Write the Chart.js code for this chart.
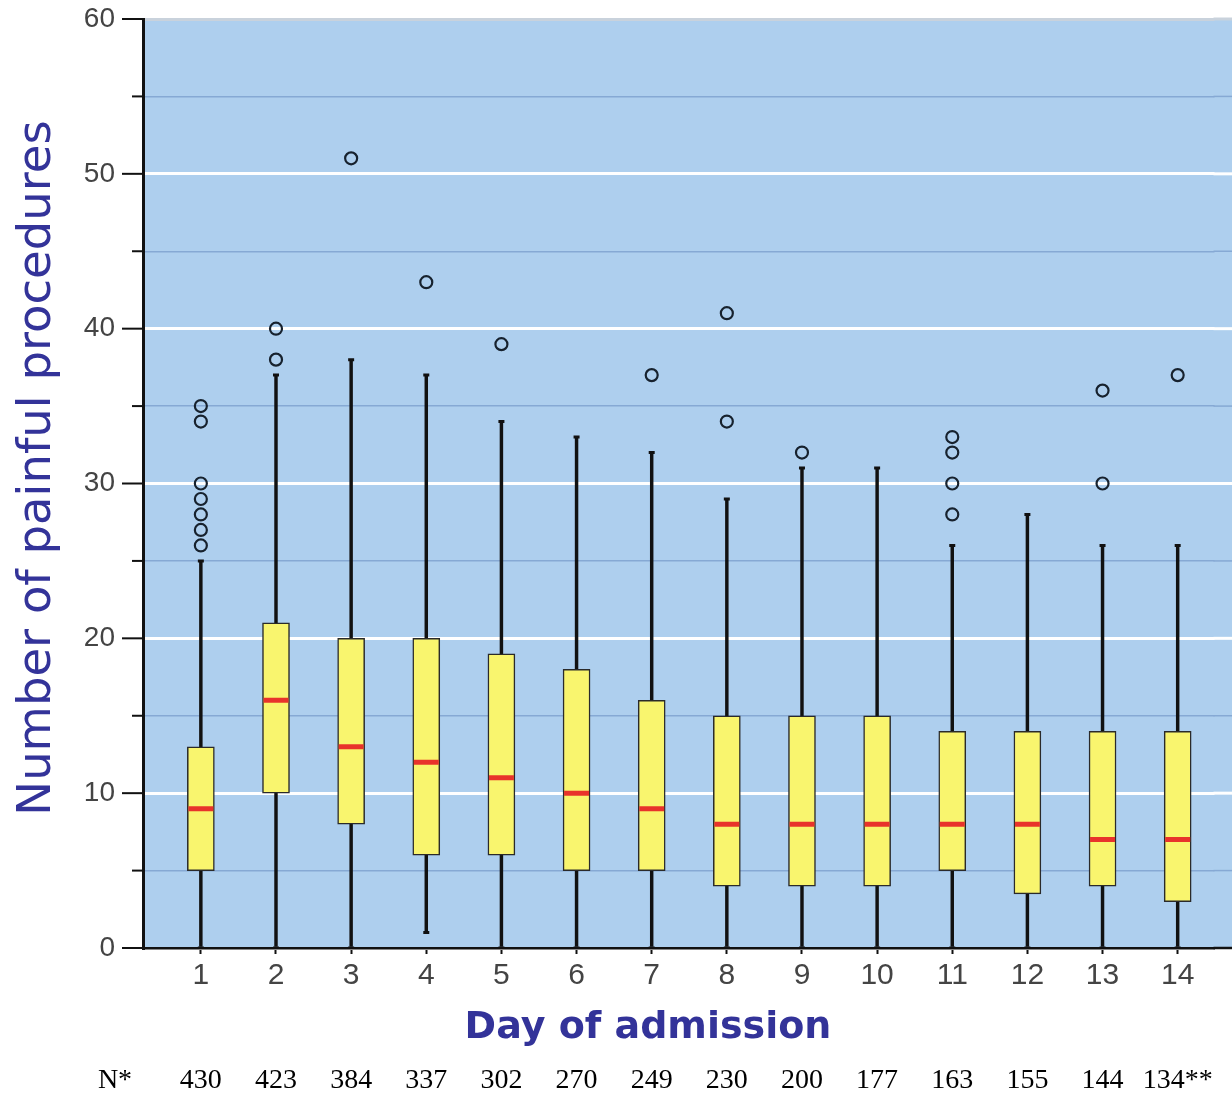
<!DOCTYPE html>
<html>
<head>
<meta charset="utf-8">
<script src="https://cdn.jsdelivr.net/npm/chart.js@4.4.1/dist/chart.umd.min.js"></script>
<style>
  html, body { margin: 0; padding: 0; background: #fff; }
</style>
</head>
<body>
<canvas id="painChart" width="1232" height="1094"></canvas>
<script>
// values
var days = [1, 2, 3, 4, 5, 6, 7, 8, 9, 10, 11, 12, 13, 14];
var q1 = [5, 10, 8, 6, 6, 5, 5, 4, 4, 4, 5, 3.5, 4, 3];
var q3 = [13, 21, 20, 20, 19, 18, 16, 15, 15, 15, 14, 14, 14, 14];
var medians = [9, 16, 13, 12, 11, 10, 9, 8, 8, 8, 8, 8, 7, 7];
var whiskerLow = [0, 0, 0, 1, 0, 0, 0, 0, 0, 0, 0, 0, 0, 0];
var whiskerHigh = [25, 37, 38, 37, 34, 33, 32, 29, 31, 31, 26, 28, 26, 26];
var outliers = [
    [26, 27, 28, 29, 30, 34, 35],
    [38, 40],
    [51],
    [43],
    [39],
    [],
    [37],
    [34, 41],
    [32],
    [],
    [28, 30, 32, 33],
    [],
    [30, 36],
    [37]
];
var nCounts = ['430', '423', '384', '337', '302', '270', '249', '230', '200', '177', '163', '155', '144', '134**'];

var boxData = days.map(function (d, i) { return { x: d, y: [q1[i], q3[i]] }; });
var whiskerData = days.map(function (d, i) { return { x: d, y: [whiskerLow[i], whiskerHigh[i]] }; });
var medianData = days.map(function (d, i) { return { x: d, y: medians[i] }; });
var capData = [];
days.forEach(function (d, i) {
    capData.push({ x: d, y: whiskerLow[i] });
    capData.push({ x: d, y: whiskerHigh[i] });
});
var outlierData = [];
days.forEach(function (d, i) {
    outliers[i].forEach(function (v) { outlierData.push({ x: d, y: v }); });
});

function gridColor(v) {
    if (v === 60) return '#c9d2dc';
    return v % 10 === 0 ? '#ffffff' : '#86a9d4';
}
function gridWidth(v) {
    return v % 10 === 0 ? 3 : 1.5;
}

// blue plot background, carried on to the right edge of the canvas
var plotBackground = {
    id: 'plotBackground',
    beforeDraw: function (chart) {
        var a = chart.chartArea;
        var ctx = chart.ctx;
        ctx.save();
        ctx.fillStyle = '#aecfee';
        ctx.fillRect(a.left, a.top, chart.width - a.left, a.bottom - a.top);
        ctx.restore();
    },
    beforeDatasetsDraw: function (chart) {
        var a = chart.chartArea;
        var ys = chart.scales.y;
        var ctx = chart.ctx;
        ctx.save();
        ys.ticks.forEach(function (t) {
            if (t.value === 0) return;
            var py = ys.getPixelForValue(t.value);
            ctx.strokeStyle = gridColor(t.value);
            ctx.lineWidth = gridWidth(t.value);
            ctx.beginPath();
            ctx.moveTo(a.right - 1, py);
            ctx.lineTo(chart.width, py);
            ctx.stroke();
        });
        ctx.strokeStyle = '#111';
        ctx.lineWidth = 2.5;
        ctx.beginPath();
        ctx.moveTo(a.right - 1, a.bottom);
        ctx.lineTo(chart.width, a.bottom);
        ctx.stroke();
        ctx.restore();
    }
};

// y tick marks (long at tens, short at fives), x labels, axis titles and the N row
var extras = {
    id: 'extras',
    afterDraw: function (chart) {
        var xs = chart.scales.x;
        var ys = chart.scales.y;
        var ctx = chart.ctx;
        ctx.save();
        ctx.strokeStyle = '#111';
        ctx.lineWidth = 2;
        ys.ticks.forEach(function (t) {
            var py = ys.getPixelForValue(t.value);
            var len = t.value % 10 === 0 ? 21 : 11;
            ctx.beginPath();
            ctx.moveTo(ys.right - len, py);
            ctx.lineTo(ys.right, py);
            ctx.stroke();
        });

        ctx.textAlign = 'center';
        ctx.textBaseline = 'middle';
        ctx.fillStyle = '#444';
        ctx.font = '30px "Liberation Sans"';
        xs.ticks.forEach(function (t) {
            ctx.fillText(String(t.value), xs.getPixelForValue(t.value), 976);
        });

        ctx.fillStyle = '#333399';
        ctx.font = 'bold 38px "DejaVu Sans"';
        ctx.fillText('Day of admission', 648, 1028);
        ctx.save();
        ctx.translate(38, ys.getPixelForValue(31));
        ctx.rotate(-Math.PI / 2);
        ctx.font = '46.5px "DejaVu Sans"';
        ctx.fillText('Number of painful procedures', 0, 0);
        ctx.restore();

        ctx.fillStyle = '#000';
        ctx.font = '28px "Liberation Serif"';
        var rowY = chart.height - 13;
        ctx.fillText('N*', xs.left - 28, rowY);
        days.forEach(function (d, i) {
            ctx.fillText(nCounts[i], xs.getPixelForValue(d), rowY);
        });
        ctx.restore();
    }
};

new Chart(document.getElementById('painChart'), {
    type: 'bar',
    data: {
        datasets: [
            {
                type: 'scatter',
                data: outlierData,
                pointStyle: 'circle',
                radius: 6,
                borderWidth: 2.2,
                borderColor: '#17222e',
                backgroundColor: 'rgba(0,0,0,0)',
                order: 1
            },
            {
                type: 'scatter',
                data: capData,
                pointStyle: 'line',
                radius: 3,
                borderWidth: 3,
                borderColor: '#111',
                order: 2
            },
            {
                type: 'scatter',
                data: medianData,
                pointStyle: 'line',
                radius: 12.5,
                borderWidth: 5,
                borderColor: '#e8332b',
                order: 3
            },
            {
                data: boxData,
                barThickness: 27,
                grouped: false,
                backgroundColor: '#f9f56e',
                borderColor: '#2a2a2a',
                borderWidth: 1.5,
                borderSkipped: false,
                order: 4
            },
            {
                data: whiskerData,
                barThickness: 2.8,
                grouped: false,
                backgroundColor: '#111',
                borderWidth: 0,
                order: 5
            }
        ]
    },
    options: {
        responsive: false,
        animation: false,
        events: [],
        layout: { padding: { top: 19, right: 0, left: 0, bottom: 0 } },
        plugins: {
            legend: { display: false },
            tooltip: { enabled: false }
        },
        scales: {
            x: {
                type: 'linear',
                offset: false,
                min: 0.23,
                max: 14.49,
                afterBuildTicks: function (scale) {
                    scale.ticks = days.map(function (d) { return { value: d }; });
                },
                afterFit: function (scale) { scale.height = 146; },
                grid: {
                    offset: false,
                    drawOnChartArea: false,
                    drawTicks: true,
                    tickLength: 6,
                    tickColor: '#111',
                    tickWidth: 2
                },
                border: { color: '#111', width: 2.5 },
                ticks: { display: false }
            },
            y: {
                min: 0,
                max: 60,
                afterFit: function (scale) { scale.width = 143; },
                ticks: {
                    stepSize: 5,
                    callback: function (v) { return v % 10 === 0 ? v : ''; },
                    font: { family: 'Liberation Sans', size: 28, lineHeight: 1 },
                    color: '#444',
                    padding: 0
                },
                grid: {
                    color: function (c) { return gridColor(c.tick.value); },
                    lineWidth: function (c) { return gridWidth(c.tick.value); },
                    tickLength: 28,
                    tickColor: 'rgba(0,0,0,0)'
                },
                border: { color: '#111', width: 3 }
            }
        }
    },
    plugins: [plotBackground, extras]
});
</script>
</body>
</html>
